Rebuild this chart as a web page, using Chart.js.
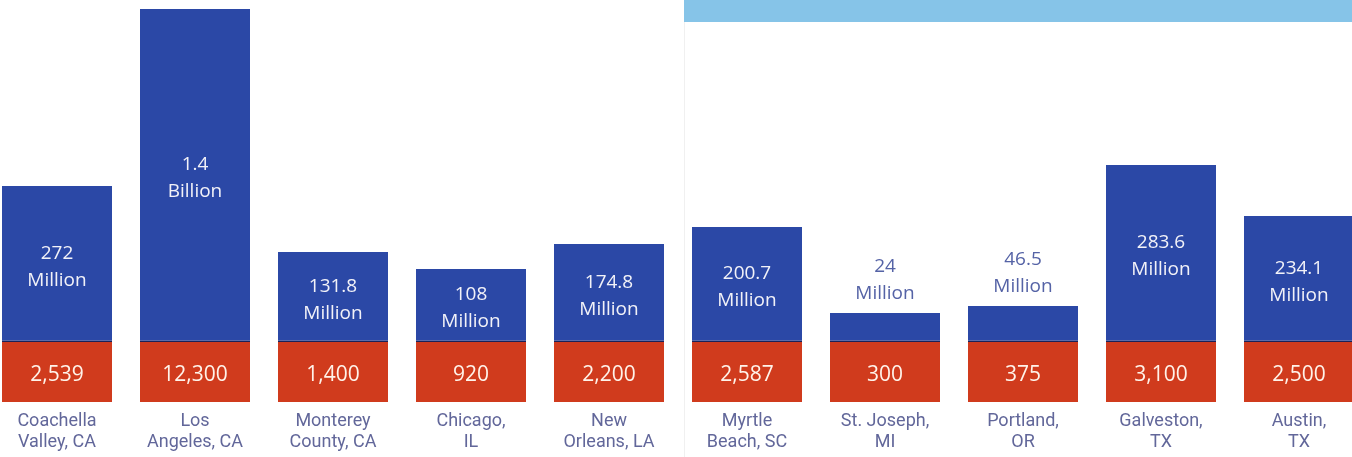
<!DOCTYPE html>
<html>
<head>
<meta charset="utf-8">
<script src="https://cdn.jsdelivr.net/npm/chart.js@4.4.1/dist/chart.umd.min.js"></script>
<style>
    html, body { margin: 0; padding: 0; background: #ffffff; overflow: hidden; }
    #caixa { position: absolute; left: -12px; top: 0; width: 1380px; height: 457px; }
</style>
</head>
<body>
<div id="caixa"><canvas id="graficoCidades"></canvas></div>
<script>
// --- Dados ---
const cidades = [
    ['Coachella', 'Valley, CA'], ['Los', 'Angeles, CA'], ['Monterey', 'County, CA'],
    ['Chicago,', 'IL'], ['New', 'Orleans, LA'], ['Myrtle', 'Beach, SC'],
    ['St. Joseph,', 'MI'], ['Portland,', 'OR'], ['Galveston,', 'TX'], ['Austin,', 'TX']
];
const impacto = ['272', '1.4', '131.8', '108', '174.8', '200.7', '24', '46.5', '283.6', '234.1'];
const unidades = ['Million', 'Billion', 'Million', 'Million', 'Million', 'Million', 'Million', 'Million', 'Million', 'Million'];
const empregos = ['2,539', '12,300', '1,400', '920', '2,200', '2,587', '300', '375', '3,100', '2,500'];
// alturas desenhadas (a figura não é proporcional aos valores)
const alturaAzul = [156, 333, 90, 73, 98, 115, 29, 36, 177, 126];
const faixaVermelha = [60, 60, 60, 60, 60, 60, 60, 60, 60, 60];

const AZUL = '#2b48a6';
const VERMELHO = '#d03b1d';

// Fundo: faixa azul clara no topo e a dobra da página
const fundo = {
    id: 'fundo',
    beforeDraw(chart) {
        const ctx = chart.ctx;
        ctx.save();
        ctx.fillStyle = '#86c4e8';
        ctx.fillRect(696, 0, 700, 22);
        ctx.strokeStyle = 'rgba(0,0,0,0.06)';
        ctx.lineWidth = 1;
        ctx.beginPath();
        ctx.moveTo(696.5, 22);
        ctx.lineTo(696.5, 457);
        ctx.stroke();
        ctx.restore();
    }
};

// Textos dentro / acima das barras
const rotulos = {
    id: 'rotulos',
    afterDatasetsDraw(chart) {
        const ctx = chart.ctx;
        const barrasVermelhas = chart.getDatasetMeta(0).data;
        const barrasAzuis = chart.getDatasetMeta(1).data;
        ctx.save();
        ctx.textAlign = 'center';
        ctx.textBaseline = 'middle';

        barrasVermelhas.forEach((b, i) => {
            ctx.fillStyle = '#fff3ea';
            ctx.font = '21px "Open Sans"';
            ctx.fillText(empregos[i], b.x, (b.y + b.base) / 2 + 3);
        });

        barrasAzuis.forEach((b, i) => {
            const altura = b.base - b.y;
            ctx.font = '19px "Open Sans"';
            if (altura < 50) {
                // barra baixa demais: texto fica acima
                ctx.fillStyle = '#5563a6';
                ctx.fillText(impacto[i], b.x, b.y - 46);
                ctx.fillText(unidades[i], b.x, b.y - 19);
            } else {
                const meio = (b.y + b.base) / 2 + 3;
                ctx.fillStyle = '#f2f2f8';
                ctx.fillText(impacto[i], b.x, meio - 13.5);
                ctx.fillText(unidades[i], b.x, meio + 13.5);
            }
        });
        ctx.restore();
    }
};

const ctx = document.getElementById('graficoCidades').getContext('2d');
new Chart(ctx, {
    type: 'bar',
    data: {
        labels: cidades,
        datasets: [
            {
                label: 'Jobs',
                data: faixaVermelha,
                backgroundColor: VERMELHO,
                borderWidth: 0
            },
            {
                label: 'Economic impact',
                data: alturaAzul,
                backgroundColor: AZUL,
                borderColor: '#1a2158',
                borderWidth: { top: 0, left: 0, right: 0, bottom: 1.5 },
                borderSkipped: false
            }
        ]
    },
    options: {
        responsive: true,
        maintainAspectRatio: false,
        animation: false,
        events: [],
        layout: { padding: 0 },
        datasets: {
            bar: { barPercentage: 110 / 138, categoryPercentage: 1 }
        },
        plugins: {
            legend: { display: false },
            tooltip: { enabled: false }
        },
        scales: {
            x: {
                stacked: true,
                grid: { display: false },
                border: { display: false },
                afterFit: (eixo) => { eixo.height = 55; },
                ticks: {
                    color: '#62679a',
                    padding: 1,
                    maxRotation: 0,
                    autoSkip: false,
                    font: { size: 18, family: 'Roboto, Arial, sans-serif', lineHeight: 1.17 }
                }
            },
            y: {
                stacked: true,
                display: false,
                min: 0,
                max: 402
            }
        }
    },
    plugins: [fundo, rotulos]
});
</script>
</body>
</html>
